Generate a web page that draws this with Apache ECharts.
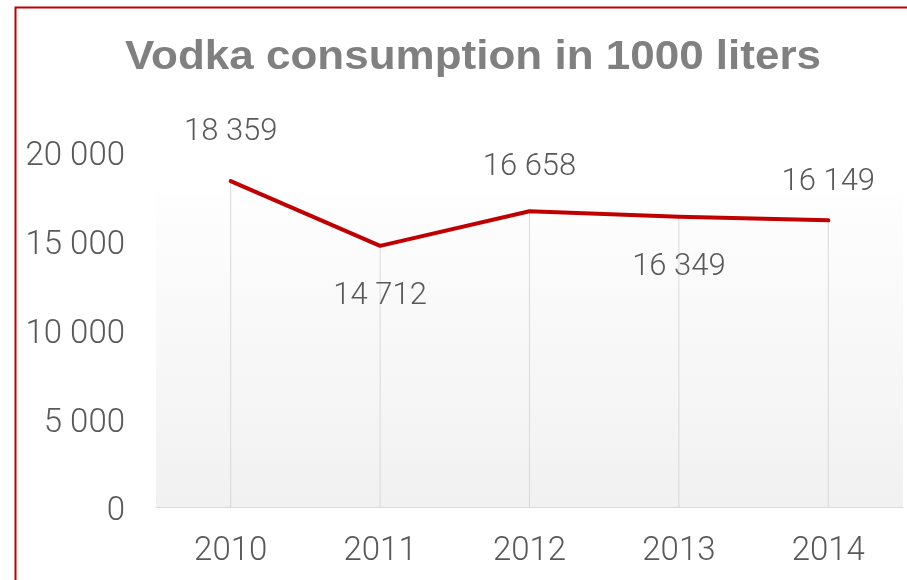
<!DOCTYPE html>
<html>
<head>
<meta charset="utf-8">
<title>Vodka consumption</title>
<script src="https://cdn.jsdelivr.net/npm/echarts@6/dist/echarts.min.js"></script>
<style>
  html, body { margin: 0; padding: 0; background: #ffffff; }
  #chart { width: 907px; height: 580px; }
</style>
</head>
<body>
<div id="chart"></div>
<script>
// Yearly vodka consumption, thousands of liters
const years = ['2010', '2011', '2012', '2013', '2014'];
const consumption = [18359, 14712, 16658, 16349, 16149];
const yTicks = [0, 5000, 10000, 15000, 20000];

// Which side of the line each value label sits on
const labelSide = ['top', 'bottom', 'top', 'bottom', 'top'];
const labelGap = [33, 34, 28, 34, 22];

const spaced = v => String(v).replace(/\B(?=(\d{3})+(?!\d))/g, ' ');
const numFont = 'Roboto, "Noto Sans", sans-serif';

const chart = echarts.init(document.getElementById('chart'), null, { renderer: 'canvas' });

chart.setOption({
  animation: false,
  backgroundColor: '#ffffff',
  graphic: [
    {
      type: 'text',
      silent: true,
      left: 125,
      top: 38,
      scaleX: 1.1,
      style: {
        text: 'Vodka consumption in 1000 liters',
        font: 'bold 40px "Liberation Sans", Arial, sans-serif',
        fill: '#808080'
      }
    },
    {
      type: 'rect',
      silent: true,
      shape: { x: 15.5, y: 7.5, width: 1200, height: 1000 },
      style: { fill: 'none', stroke: '#c00000', lineWidth: 2 },
      z: 100
    }
  ],
  grid: { left: 156, right: 4, top: 152, bottom: 73, containLabel: false },
  xAxis: {
    type: 'category',
    data: years,
    boundaryGap: true,
    axisLine: { show: true, lineStyle: { color: '#d9d9d9', width: 1 } },
    axisTick: { show: false },
    axisLabel: {
      margin: 28,
      fontFamily: numFont,
      fontSize: 33,
      fontWeight: 300,
      color: '#595959'
    },
    splitLine: { show: false }
  },
  yAxis: {
    type: 'value',
    min: yTicks[0],
    max: yTicks[yTicks.length - 1],
    interval: yTicks[1] - yTicks[0],
    axisLine: { show: false },
    axisTick: { show: false },
    splitLine: { show: false },
    axisLabel: {
      margin: 31,
      fontFamily: numFont,
      fontSize: 33,
      fontWeight: 300,
      color: '#595959',
      verticalAlign: 'top',
      lineHeight: 10,
      formatter: v => spaced(v)
    }
  },
  series: [
    {
      // thin drop lines from each point down to the axis
      type: 'bar',
      data: consumption,
      barWidth: 1,
      itemStyle: { color: '#d9d9d9' },
      silent: true,
      z: 1,
      markArea: {
        silent: true,
        itemStyle: {
          color: {
            type: 'linear', x: 0, y: 0, x2: 0, y2: 1,
            colorStops: [
              { offset: 0, color: '#fefefe' },
              { offset: 1, color: '#f1f1f1' }
            ]
          }
        },
        data: [[{ yAxis: 0 }, { yAxis: 17700 }]]
      }
    },
    {
      type: 'line',
      data: consumption.map((v, i) => ({
        value: v,
        label: { position: labelSide[i], distance: labelGap[i] }
      })),
      showSymbol: true,
      symbol: 'circle',
      symbolSize: 1,
      itemStyle: { color: '#c00000' },
      lineStyle: { color: '#c00000', width: 4, cap: 'round', join: 'round' },
      z: 3,
      label: {
        show: true,
        fontFamily: numFont,
        fontSize: 31,
        fontWeight: 300,
        lineHeight: 31,
        color: '#595959',
        formatter: p => spaced(p.value)
      }
    }
  ]
});
</script>
</body>
</html>
